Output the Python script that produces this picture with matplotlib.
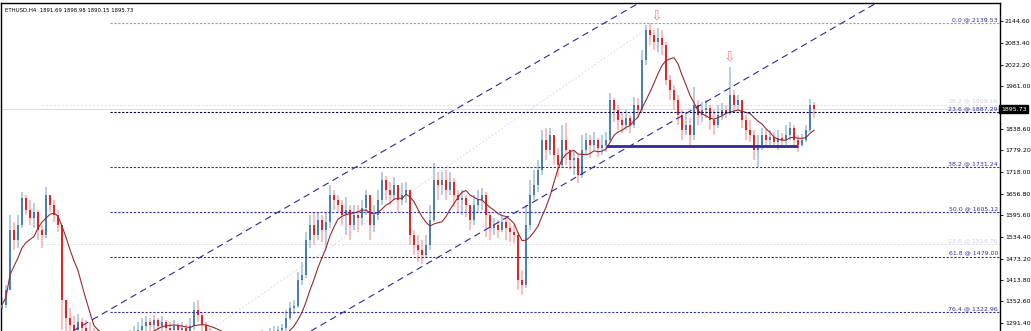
import numpy as np
import pandas as pd
import matplotlib
matplotlib.use("Agg")
import matplotlib.pyplot as plt
from matplotlib import transforms

symbol = "ETHUSD,H4"
last_ohlc = [1891.69, 1898.98, 1890.15, 1895.73]

# H4 candles (closes, highs, lows)
close = [1343, 1385, 1555, 1526, 1569, 1645, 1611, 1588, 1605, 1555,
         1540, 1653, 1625, 1597, 1569, 1357, 1306, 1286, 1272, 1295,
         1278, 1266, 1255, 1244, 1249, 1230, 1221, 1215, 1227, 1238,
         1230, 1244, 1255, 1261, 1272, 1283, 1295, 1286, 1300, 1283,
         1295, 1278, 1272, 1283, 1272, 1278, 1266, 1283, 1328, 1314,
         1286, 1266, 1249, 1238, 1230, 1221, 1232, 1227, 1215, 1230,
         1238, 1227, 1232, 1244, 1238, 1249, 1244, 1255, 1266, 1272,
         1278, 1306, 1334, 1340, 1413, 1427, 1526, 1569, 1540, 1583,
         1555, 1577, 1653, 1639, 1625, 1597, 1611, 1569, 1597, 1588,
         1617, 1653, 1569, 1597, 1639, 1696, 1668, 1653, 1682, 1639,
         1653, 1668, 1540, 1512, 1498, 1484, 1512, 1583, 1696, 1682,
         1696, 1668, 1690, 1653, 1639, 1645, 1625, 1583, 1625, 1639,
         1653, 1597, 1560, 1569, 1555, 1577, 1560, 1549, 1540, 1413,
         1399, 1569, 1653, 1682, 1724, 1809, 1781, 1823, 1767, 1738,
         1809, 1781, 1752, 1758, 1710, 1781, 1809, 1795, 1809, 1786,
         1795, 1809, 1922, 1894, 1865, 1851, 1871, 1851, 1908, 1894,
         2035, 2120, 2106, 2086, 2097, 2077, 1978, 1950, 1922, 1880,
         1837, 1851, 1823, 1908, 1880, 1894, 1899, 1865, 1851, 1880,
         1894, 1888, 1936, 1908, 1922, 1865, 1837, 1823, 1781, 1795,
         1823, 1809, 1817, 1803, 1814, 1809, 1823, 1843, 1809, 1795,
         1809, 1837, 1908, 1895.73]
high = [1362, 1399, 1597, 1577, 1597, 1662, 1653, 1639, 1631, 1611,
        1569, 1676, 1653, 1639, 1611, 1569, 1357, 1334, 1311, 1317,
        1306, 1300, 1295, 1278, 1272, 1258, 1249, 1244, 1255, 1261,
        1255, 1263, 1272, 1283, 1295, 1306, 1311, 1306, 1314, 1306,
        1311, 1300, 1295, 1300, 1292, 1295, 1289, 1306, 1351, 1357,
        1323, 1295, 1278, 1263, 1255, 1249, 1255, 1249, 1244, 1252,
        1261, 1249, 1255, 1266, 1261, 1272, 1266, 1278, 1283, 1283,
        1289, 1328, 1351, 1357, 1436, 1464, 1549, 1597, 1605, 1605,
        1597, 1605, 1682, 1668, 1653, 1639, 1648, 1625, 1625, 1625,
        1639, 1668, 1653, 1625, 1668, 1718, 1707, 1690, 1704, 1682,
        1687, 1690, 1653, 1555, 1540, 1526, 1540, 1625, 1744, 1718,
        1718, 1724, 1718, 1701, 1668, 1668, 1653, 1625, 1653, 1668,
        1673, 1662, 1605, 1588, 1583, 1597, 1588, 1577, 1569, 1549,
        1441, 1625, 1696, 1724, 1752, 1837, 1843, 1843, 1809, 1786,
        1851, 1857, 1781, 1781, 1767, 1823, 1829, 1823, 1831, 1814,
        1823, 1831, 1942, 1928, 1908, 1888, 1894, 1880, 1930, 1928,
        2063, 2134, 2140, 2120, 2125, 2120, 2086, 1993, 1964, 1936,
        1894, 1888, 1871, 1959, 1922, 1916, 1922, 1908, 1894, 1908,
        1913, 1908, 2015, 1950, 1936, 1922, 1880, 1865, 1837, 1823,
        1843, 1837, 1837, 1831, 1837, 1829, 1851, 1860, 1851, 1823,
        1826, 1851, 1925, 1916]
low = [1328, 1334, 1413, 1498, 1504, 1560, 1597, 1569, 1560, 1526,
       1504, 1532, 1605, 1577, 1549, 1272, 1244, 1230, 1230, 1244,
       1230, 1221, 1215, 1210, 1210, 1201, 1193, 1187, 1198, 1210,
       1201, 1215, 1230, 1238, 1244, 1261, 1266, 1258, 1272, 1261,
       1266, 1255, 1249, 1255, 1249, 1252, 1244, 1255, 1272, 1295,
       1266, 1238, 1221, 1210, 1201, 1193, 1204, 1198, 1187, 1201,
       1210, 1198, 1204, 1215, 1210, 1221, 1215, 1227, 1238, 1244,
       1249, 1266, 1300, 1317, 1334, 1399, 1419, 1504, 1512, 1526,
       1521, 1504, 1560, 1611, 1605, 1569, 1540, 1526, 1555, 1549,
       1569, 1597, 1526, 1549, 1583, 1625, 1639, 1625, 1639, 1605,
       1625, 1631, 1512, 1484, 1464, 1458, 1475, 1498, 1577, 1639,
       1653, 1639, 1653, 1620, 1605, 1597, 1591, 1555, 1569, 1605,
       1611, 1535, 1526, 1540, 1532, 1549, 1526, 1521, 1518, 1385,
       1371, 1391, 1555, 1639, 1662, 1710, 1752, 1767, 1738, 1704,
       1730, 1738, 1724, 1710, 1687, 1701, 1767, 1758, 1781, 1761,
       1767, 1775, 1803, 1860, 1837, 1829, 1837, 1829, 1843, 1871,
       1888, 2021, 2077, 2063, 2058, 2049, 1964, 1922, 1894, 1851,
       1809, 1823, 1795, 1809, 1851, 1860, 1871, 1837, 1823, 1843,
       1865, 1871, 1880, 1888, 1894, 1843, 1809, 1803, 1752, 1733,
       1781, 1789, 1795, 1786, 1781, 1786, 1795, 1809, 1789, 1775,
       1789, 1803, 1831, 1871]
first_open = 1335
ma_period = 9

# Fibonacci objects
fib_levels = [0.0, 23.6, 38.2, 50.0, 61.8, 76.4]
fib_prices = [2139.53, 1887.29, 1731.24, 1605.12, 1479.00, 1322.96]
fib_start_bar = 27
old_fib_levels = [38.2, 23.6]
old_fib_prices = [1909.16, 1514.76]
old_fib_start_bar = 10

# other drawing objects (bar index, price)
support_price = 1791.5
support_bars = [151, 199]
channel_a = [(40, 1415), (150, 2135.5)]
channel_b = [(148.75, 1738), (200, 2074)]
mid_line = [(52, 1272), (160, 2113)]
arrow_bars = [163.5, 181.75]
arrow_prices = [2160, 2045]

axis_ticks = [2144.60, 2083.40, 2022.20, 1961.00, 1838.60, 1779.20, 1718.00,
              1656.80, 1595.60, 1534.40, 1473.20, 1413.80, 1352.60, 1291.40]

plt.rcParams['font.family'] = ['DejaVu Sans']

fig = plt.figure(figsize=(10.31, 3.31), dpi=100)
ax = fig.add_axes([1 / 1031, 0, 999 / 1031, 328 / 331])

c = np.array(close, dtype=float)
h = np.array(high, dtype=float)
l = np.array(low, dtype=float)
o = np.r_[first_open, c[:-1]]
x = np.arange(len(c))
up = c >= o

top = np.maximum.reduce([h, o, c])
bot = np.minimum.reduce([l, o, c])
ax.vlines(x[up], bot[up], top[up], color='#a9c4e2', lw=1.2, zorder=2)
ax.vlines(x[~up], bot[~up], top[~up], color='#ffb0b0', lw=1.2, zorder=2)
body_lo = np.minimum(o, c)
body_h = np.maximum(np.abs(c - o), 2.0)
ax.bar(x[up], body_h[up], bottom=body_lo[up], width=0.55, color='#4a7fb8', lw=0, zorder=3)
ax.bar(x[~up], body_h[~up], bottom=body_lo[~up], width=0.55, color='#ff1a1a', lw=0, zorder=3)

ma = pd.Series(c).rolling(ma_period, min_periods=1).mean()
ax.plot(x, ma, color='#9a2a2a', lw=0.8, zorder=4)

xmax = 249.5
ax.set_xlim(-0.25, xmax)
ax.set_ylim(1269.1, 2196.0)

# bid line
ax.axhline(c[-1], color='#c6e6ee', lw=0.8, zorder=1)

# old faded fibo
ax.hlines(old_fib_prices, old_fib_start_bar, xmax, colors='#dcdcee',
          linestyles=(0, (2, 2)), lw=0.7, zorder=1)
for lv, p in zip(old_fib_levels, old_fib_prices):
    ax.text(249, p + 3, f"{lv:.1f} @ {p:.2f}", ha='right', va='bottom',
            fontsize=4.5, color='#d2d2e6', zorder=1)

# active fibo
fib_colors = ['#9898e0', '#000048', '#3030a8', '#3030a8', '#3030a8', '#3030a8']
for lv, p, col in zip(fib_levels, fib_prices, fib_colors):
    ax.hlines(p, fib_start_bar, xmax, colors=col, linestyles=(0, (2, 1.5)),
              lw=0.8, zorder=5)
    ax.text(249, p + 3, f"{lv:.1f} @ {p:.2f}", ha='right', va='bottom',
            fontsize=4.5, color='#3030a8', zorder=6)

# channel lines
ax.axline(channel_a[0], channel_a[1], color='#2a2a9a', lw=0.8,
          linestyle=(0, (6, 4)), zorder=5)
ax.axline(channel_b[0], channel_b[1], color='#2a2a9a', lw=0.8,
          linestyle=(0, (6, 4)), zorder=5)
ax.plot([mid_line[0][0], mid_line[1][0]], [mid_line[0][1], mid_line[1][1]],
        color='#dcdcee', lw=0.7, linestyle=(0, (2, 2)), zorder=1)

# support
ax.hlines(support_price, support_bars[0], support_bars[1], colors='#2c2c9c',
          lw=2, zorder=6)

for b, p in zip(arrow_bars, arrow_prices):
    ax.text(b, p, '\u21e9', ha='center', va='center', fontsize=10,
            color='#f08a8a', zorder=7)

ax.text(0.004, 0.979, symbol + "  " + " ".join(f"{v:.2f}" for v in last_ohlc),
        transform=ax.transAxes, ha='left', va='center', fontsize=3.9, color='black')

# axes look
ax.spines['bottom'].set_visible(False)
for s in ['top', 'left', 'right']:
    ax.spines[s].set_color('black')
    ax.spines[s].set_linewidth(1.0)
ax.set_xticks([])
ax.yaxis.tick_right()
ax.set_yticks(axis_ticks)
ax.set_yticklabels([f"{t:.2f}" for t in axis_ticks])
ax.tick_params(axis='y', direction='out', length=2, width=0.6, labelsize=4.5,
               pad=1.5, colors='black')

trans = transforms.blended_transform_factory(ax.transAxes, ax.transData)
ax.text(1.001, c[-1], f"{c[-1]:.2f}", transform=trans, ha='left', va='center',
        fontsize=4.5, color='white',
        bbox=dict(boxstyle='square,pad=0.25', fc='black', ec='black'), zorder=8)

fig.savefig("out.png", dpi=100)
